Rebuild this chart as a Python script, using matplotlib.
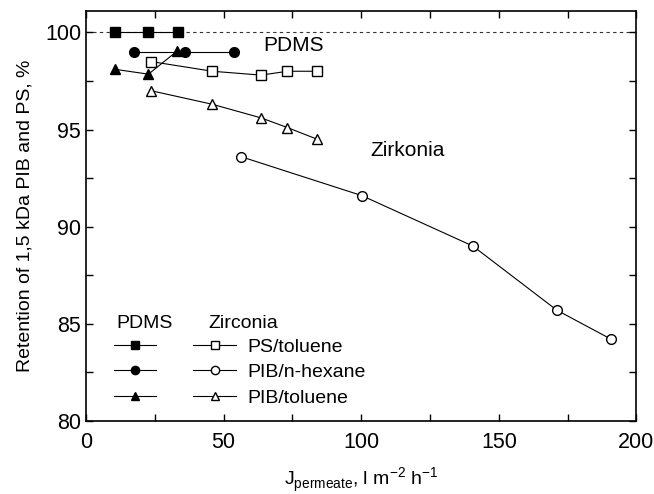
import matplotlib
matplotlib.use("Agg")
import matplotlib.pyplot as plt
from matplotlib.ticker import MultipleLocator

plt.rcParams['font.family'] = ['Liberation Sans', 'DejaVu Sans']
plt.rcParams['mathtext.fontset'] = 'custom'
plt.rcParams['mathtext.rm'] = 'Liberation Sans'

# PDMS membrane
pdms_ps_x = [10.5, 22.7, 33.3]
pdms_ps_y = [100.0, 100.0, 100.0]
pdms_hex_x = [17.6, 36.0, 53.6]
pdms_hex_y = [99.0, 99.0, 99.0]
pdms_tol_x = [10.5, 22.7, 33.2]
pdms_tol_y = [98.1, 97.85, 99.05]

# Zirconia membrane
zr_ps_x = [23.6, 45.9, 63.6, 73.2, 84.0]
zr_ps_y = [98.5, 98.0, 97.8, 98.0, 98.0]
zr_hex_x = [56.4, 100.2, 140.6, 171.1, 190.9]
zr_hex_y = [93.6, 91.6, 89.0, 85.7, 84.2]
zr_tol_x = [23.6, 45.9, 63.6, 73.2, 84.0]
zr_tol_y = [97.0, 96.3, 95.6, 95.1, 94.5]

series_labels = ['PS/toluene', 'PIB/n-hexane', 'PIB/toluene']

fig = plt.figure(figsize=(6.54, 4.94), dpi=100)
ax = fig.add_axes([0.1315, 0.1478, 0.8417, 0.8299])

lw = 0.8
ms = 7
ax.axhline(100, color='#333333', lw=0.8, ls=(0, (3, 3)), zorder=1)

kw = dict(color='black', lw=lw, ms=ms, zorder=3)
f1, = ax.plot(pdms_ps_x, pdms_ps_y, marker='s', mfc='black', **kw)
f2, = ax.plot(pdms_hex_x, pdms_hex_y, marker='o', mfc='black', **kw)
f3, = ax.plot(pdms_tol_x, pdms_tol_y, marker='^', mfc='black', **kw)
o1, = ax.plot(zr_ps_x, zr_ps_y, marker='s', mfc='white', **kw)
o2, = ax.plot(zr_hex_x, zr_hex_y, marker='o', mfc='white', **kw)
o3, = ax.plot(zr_tol_x, zr_tol_y, marker='^', mfc='white', **kw)

ax.set_xlim(0, 200)
ax.set_ylim(80, 101.1)
ax.xaxis.set_major_locator(MultipleLocator(50))
ax.xaxis.set_minor_locator(MultipleLocator(25))
ax.yaxis.set_major_locator(MultipleLocator(5))
ax.yaxis.set_minor_locator(MultipleLocator(2.5))
ax.tick_params(which='both', direction='in', top=True, right=True, labelsize=15.5, width=1.0)
ax.tick_params(which='major', length=5)
ax.tick_params(which='minor', length=5)
ax.tick_params(axis='x', pad=8)
for s in ax.spines.values():
    s.set_linewidth(1.2)

ax.set_xlabel(r'J$_{\mathregular{permeate}}$, l m$^{\mathregular{-2}}$ h$^{\mathregular{-1}}$', fontsize=14, labelpad=9)
ax.set_ylabel('Retention of 1,5 kDa PIB and PS, %', fontsize=14, labelpad=8)

ax.text(64.4, 99.33, 'PDMS', fontsize=15, va='center', ha='left')
ax.text(103.3, 93.9, 'Zirkonia', fontsize=15, va='center', ha='left')

fs = 14
leg1 = ax.legend([f1, f2, f3], ['', '', ''], loc='upper left', frameon=False,
                 bbox_to_anchor=(0.05, 0.202), fontsize=fs, handlelength=2.2,
                 labelspacing=0.4, handletextpad=0, borderpad=0, borderaxespad=0,
                 markerscale=0.85)
ax.add_artist(leg1)
leg2 = ax.legend([o1, o2, o3], series_labels, loc='upper left', frameon=False,
                 bbox_to_anchor=(0.195, 0.202), fontsize=fs, handlelength=2.2,
                 labelspacing=0.4, handletextpad=0.6, borderpad=0, borderaxespad=0,
                 markerscale=0.85)
ax.text(0.055, 0.239, 'PDMS', transform=ax.transAxes, fontsize=fs, va='center', ha='left')
ax.text(0.222, 0.239, 'Zirconia', transform=ax.transAxes, fontsize=fs, va='center', ha='left')

fig.savefig('out.png', dpi=100)
